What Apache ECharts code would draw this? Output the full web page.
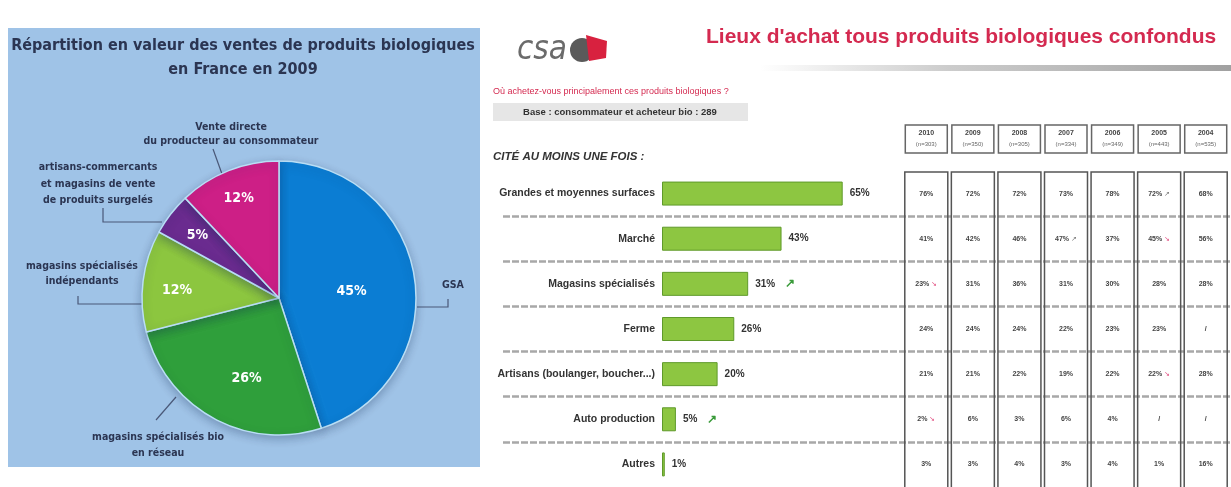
<!DOCTYPE html>
<html>
<head>
<meta charset="utf-8">
<script src="https://cdn.jsdelivr.net/npm/echarts@6/dist/echarts.min.js"></script>
<style>
  html, body { margin: 0; padding: 0; background: #fff; }
  #main { width: 1231px; height: 487px; }
</style>
</head>
<body>
<div id="main"></div>
<script>
// répartition en valeur 2009 (camembert)
var pieNames = ['GSA', 'magasins spécialisés bio en réseau', 'magasins spécialisés indépendants',
  'artisans-commercants et magasins de vente de produits surgelés', 'Vente directe du producteur au consommateur'];
var pieValues = [45, 26, 12, 5, 12];
var pieColors = ['#0b7dd3', '#2f9f3b', '#8cc63f', '#6a2b8f', '#cd1f86'];

// lieux d'achat (barres)
var lieux = ['Grandes et moyennes surfaces', 'Marché', 'Magasins spécialisés', 'Ferme',
  'Artisans (boulanger, boucher...)', 'Auto production', 'Autres'];
var citeValues = [65, 43, 31, 26, 20, 5, 1];
var citeHausse = [false, false, true, false, false, true, false];

// historique (tableau)
var annees = ['2010', '2009', '2008', '2007', '2006', '2005', '2004'];
var effectifs = [303, 350, 305, 334, 349, 443, 535];
var historique = [
  [76, 72, 72, 73, 78, 72, 68],
  [41, 42, 46, 47, 37, 45, 56],
  [23, 31, 36, 31, 30, 28, 28],
  [24, 24, 24, 22, 23, 23, null],
  [21, 21, 22, 19, 22, 22, 28],
  [2, 6, 3, 6, 4, null, null],
  [3, 3, 4, 3, 4, 1, 16]
];
var tendance = [
  ['', '', '', '', '', 'up', ''],
  ['', '', '', 'up', '', 'down', ''],
  ['down', '', '', '', '', '', ''],
  ['', '', '', '', '', '', ''],
  ['', '', '', '', '', 'down', ''],
  ['down', '', '', '', '', '', ''],
  ['', '', '', '', '', '', '']
];

var condensed = "'DejaVu Sans Condensed', 'Liberation Sans Narrow', sans-serif";
var arial = 'Liberation Sans, Arial, sans-serif';
var navy = '#2b3552';

var chart = echarts.init(document.getElementById('main'));

var pieData = [];
var pieOffsets = [[2, 5], [2, 18], [-31, 1], [-25, -19], [-14, -33]];
for (var i = 0; i < pieValues.length; i++) {
  pieData.push({
    name: pieNames[i],
    value: pieValues[i],
    itemStyle: { color: pieColors[i] },
    label: { offset: pieOffsets[i] }
  });
}

var cellData = [];
for (var r = 0; r < lieux.length; r++) {
  for (var c = 0; c < annees.length; c++) {
    cellData.push([c, r]);
  }
}

var gridTop = 171, gridHeight = 322;

var option = {
  animation: false,
  backgroundColor: '#fff',
  grid: [
    { left: 662, width: 278, top: gridTop, height: gridHeight },
    { left: 503, right: 0, top: gridTop, height: gridHeight },
    { left: 903, width: 326, top: gridTop, height: gridHeight }
  ],
  xAxis: [
    { gridIndex: 0, type: 'value', min: 0, max: 100, show: false },
    { gridIndex: 1, type: 'value', min: 0, max: 100, show: false },
    {
      gridIndex: 2, type: 'category', data: annees, position: 'top',
      axisLine: { show: false }, axisTick: { show: false },
      axisLabel: {
        interval: 0,
        margin: 18,
        formatter: function (v, idx) {
          return '{y|' + v + '}\n{n|(n=' + effectifs[idx] + ')}';
        },
        width: 42, height: 22, padding: [3, 0],
        borderColor: '#666', borderWidth: 1.5, align: 'center',
        rich: {
          y: { fontSize: 7, fontWeight: 'bold', color: '#444', lineHeight: 11, align: 'center' },
          n: { fontSize: 6, color: '#666', lineHeight: 10, align: 'center' }
        }
      }
    }
  ],
  yAxis: [
    {
      gridIndex: 0, type: 'category', data: lieux, inverse: true,
      axisLine: { show: false }, axisTick: { show: false },
      axisLabel: {
        margin: 7, fontSize: 10.5, fontWeight: 'bold', color: '#333', fontFamily: arial
      }
    },
    {
      gridIndex: 1, type: 'category', data: lieux, inverse: true,
      axisLine: { show: false }, axisTick: { show: false }, axisLabel: { show: false },
      splitLine: {
        show: true, showMinLine: false, showMaxLine: false,
        lineStyle: { color: '#a8a8a8', width: 2.5, type: [7, 2] }
      }
    },
    {
      gridIndex: 2, type: 'category', data: lieux, inverse: true, show: false
    }
  ],
  series: [
    {
      type: 'pie',
      center: [279, 298],
      radius: 137,
      startAngle: 90,
      clockwise: true,
      data: pieData,
      itemStyle: {
        borderColor: '#b9def5', borderWidth: 1.5,
        shadowBlur: 10, shadowColor: 'rgba(20,40,80,0.3)', shadowOffsetY: 3
      },
      label: {
        position: 'inside',
        formatter: '{c}%',
        color: '#fff', fontSize: 14, fontWeight: 'bold', fontFamily: condensed
      },
      labelLine: { show: false },
      emphasis: { disabled: true }
    },
    {
      type: 'bar',
      xAxisIndex: 0, yAxisIndex: 0,
      data: citeValues,
      barWidth: 24,
      itemStyle: { color: '#8dc641', borderColor: '#5f9a2a', borderWidth: 1 },
      label: {
        show: true, position: 'right', distance: 7,
        formatter: function (p) {
          return '{v|' + p.value + '%}' + (citeHausse[p.dataIndex] ? '   {a|↗}' : '');
        },
        rich: {
          v: { fontSize: 10, fontWeight: 'bold', color: '#333', fontFamily: arial },
          a: { fontSize: 12, fontWeight: 'bold', color: '#3a9b3a' }
        }
      }
    },
    {
      // cadres des colonnes du tableau
      type: 'custom',
      xAxisIndex: 2, yAxisIndex: 2,
      data: annees.map(function (a, i) { return [i, 0]; }),
      renderItem: function (params, api) {
        var x = api.coord([api.value(0), 0])[0];
        var cs = params.coordSys;
        return {
          type: 'rect',
          shape: { x: x - 21.5, y: cs.y + 1, width: 43, height: cs.height + 10 },
          style: { fill: 'transparent', stroke: '#555', lineWidth: 1.5 }
        };
      },
      z: 3
    },
    {
      // valeurs du tableau
      type: 'custom',
      xAxisIndex: 2, yAxisIndex: 2,
      data: cellData,
      renderItem: function (params, api) {
        var c = api.value(0), r = api.value(1);
        var p = api.coord([c, r]);
        var v = historique[r][c];
        var t = tendance[r][c];
        var txt = v === null ? '{v|/}' : '{v|' + v + '%}';
        if (t === 'up') txt += '{u| ↗}';
        if (t === 'down') txt += '{d| ↘}';
        return {
          type: 'text', x: p[0], y: p[1],
          style: {
            text: txt, align: 'center', verticalAlign: 'middle',
            rich: {
              v: { fontSize: 7, fontWeight: 'bold', fill: '#444', fontFamily: arial },
              u: { fontSize: 7, fill: '#777' },
              d: { fontSize: 7, fill: '#e0457a' }
            }
          }
        };
      },
      z: 4
    }
  ],
  graphic: [
    // panneau bleu
    { type: 'rect', z: -10, shape: { x: 8, y: 28, width: 472, height: 439 }, style: { fill: '#9fc3e7' } },
    {
      type: 'text', x: 243, y: 58,
      style: {
        text: 'Répartition en valeur des ventes de produits biologiques\nen France en 2009',
        align: 'center', verticalAlign: 'middle', lineHeight: 24,
        font: 'bold 16px ' + condensed, fill: navy
      }
    },
    {
      type: 'text', x: 231, y: 134,
      style: { text: 'Vente directe\ndu producteur au consommateur', align: 'center', verticalAlign: 'middle',
        lineHeight: 14, font: 'bold 10.5px ' + condensed, fill: navy }
    },
    { type: 'polyline', shape: { points: [[213, 149], [222, 174]] }, style: { stroke: '#4a5878', lineWidth: 1.2 } },
    {
      type: 'text', x: 98, y: 184,
      style: { text: 'artisans-commercants\net magasins de vente\nde produits surgelés', align: 'center', verticalAlign: 'middle',
        lineHeight: 16.5, font: 'bold 10.5px ' + condensed, fill: navy }
    },
    { type: 'polyline', shape: { points: [[103, 208], [103, 222], [162, 222]] }, style: { stroke: '#4a5878', lineWidth: 1.2 } },
    {
      type: 'text', x: 82, y: 274,
      style: { text: 'magasins spécialisés\nindépendants', align: 'center', verticalAlign: 'middle',
        lineHeight: 15, font: 'bold 10.5px ' + condensed, fill: navy }
    },
    { type: 'polyline', shape: { points: [[78, 296], [78, 304], [142, 304]] }, style: { stroke: '#4a5878', lineWidth: 1.2 } },
    {
      type: 'text', x: 453, y: 285,
      style: { text: 'GSA', align: 'center', verticalAlign: 'middle', font: 'bold 10.5px ' + condensed, fill: navy }
    },
    { type: 'polyline', shape: { points: [[417, 307], [448, 307], [448, 299]] }, style: { stroke: '#4a5878', lineWidth: 1.2 } },
    {
      type: 'text', x: 158, y: 445,
      style: { text: 'magasins spécialisés bio\nen réseau', align: 'center', verticalAlign: 'middle',
        lineHeight: 16, font: 'bold 10.5px ' + condensed, fill: navy }
    },
    { type: 'polyline', shape: { points: [[176, 397], [156, 420]] }, style: { stroke: '#4a5878', lineWidth: 1.2 } },

    // en-tête CSA
    {
      type: 'text', x: 517, y: 50,
      style: { text: 'csa', verticalAlign: 'middle', font: 'italic 33px ' + condensed, fill: '#6b6b6b' }
    },
    { type: 'circle', shape: { cx: 582, cy: 50, r: 12 }, style: { fill: '#5a5a5a' } },
    { type: 'polygon', shape: { points: [[586, 35], [607, 41], [606, 58], [589, 61]] }, style: { fill: '#d8213f' } },
    {
      type: 'text', x: 706, y: 37,
      style: { text: "Lieux d'achat tous produits biologiques confondus", verticalAlign: 'middle',
        font: 'bold 21px ' + arial, fill: '#d42a50' }
    },
    {
      type: 'rect', shape: { x: 760, y: 65, width: 471, height: 6 },
      style: {
        fill: new echarts.graphic.LinearGradient(0, 0, 1, 0, [
          { offset: 0, color: 'rgba(170,170,170,0)' },
          { offset: 0.4, color: 'rgba(170,170,170,0.6)' },
          { offset: 1, color: 'rgba(150,150,150,0.9)' }
        ])
      }
    },
    {
      type: 'text', x: 493, y: 92,
      style: { text: 'Où achetez-vous principalement ces produits biologiques ?', verticalAlign: 'middle',
        font: '9px ' + arial, fill: '#d42a50' }
    },
    { type: 'rect', shape: { x: 493, y: 103, width: 255, height: 18 }, style: { fill: '#e6e6e6' } },
    {
      type: 'text', x: 620, y: 112,
      style: { text: 'Base : consommateur et acheteur bio : 289', align: 'center', verticalAlign: 'middle',
        font: 'bold 9.5px ' + arial, fill: '#333' }
    },
    {
      type: 'text', x: 493, y: 157,
      style: { text: 'CITÉ AU MOINS UNE FOIS :', verticalAlign: 'middle',
        font: 'italic bold 11.5px ' + arial, fill: '#333' }
    }
  ]
};

chart.setOption(option);
</script>
</body>
</html>
